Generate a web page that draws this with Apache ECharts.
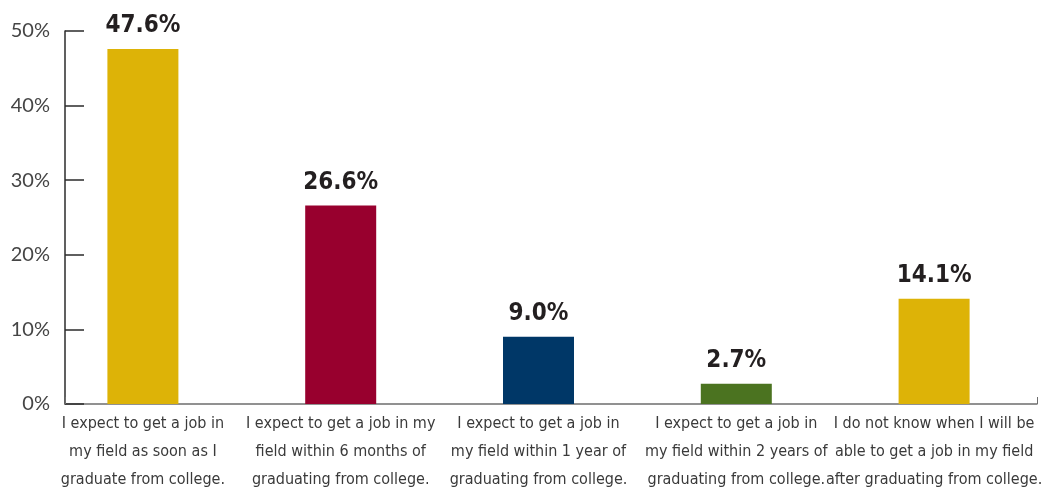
<!DOCTYPE html>
<html>
<head>
<meta charset="utf-8">
<script src="https://cdn.jsdelivr.net/npm/echarts@6/dist/echarts.min.js"></script>
<style>
  html, body { margin: 0; padding: 0; background: #fff; }
  #chart { width: 1047px; height: 491px; }
</style>
</head>
<body>
<div id="chart"></div>
<script>
// Survey responses: when students expect to find a job in their field
const categories = [
  'I expect to get a job in\nmy field as soon as I\ngraduate from college.',
  'I expect to get a job in my\nfield within 6 months of\ngraduating from college.',
  'I expect to get a job in\nmy field within 1 year of\ngraduating from college.',
  'I expect to get a job in\nmy field within 2 years of\ngraduating from college.',
  'I do not know when I will be\nable to get a job in my field\nafter graduating from college.'
];
const values = [47.6, 26.6, 9.0, 2.7, 14.1];
const barColors = ['#DDB307', '#98002E', '#003767', '#4B7320', '#DDB307'];
const yTicks = [0, 10, 20, 30, 40, 50];

const condensed = '"DejaVu Sans Condensed", "Liberation Sans Narrow", sans-serif';

const chart = echarts.init(document.getElementById('chart'), null, { renderer: 'canvas' });

chart.setOption({
  animation: false,
  backgroundColor: '#ffffff',
  grid: [
    // frame grid: y axis and baseline
    { left: 65, right: 10, top: 31, bottom: 87, outerBoundsMode: 'none', containLabel: false },
    // plotting grid for the bars and category labels
    { left: 44, right: 14, top: 31, bottom: 87, outerBoundsMode: 'none', containLabel: false }
  ],
  xAxis: [
    {
      type: 'category', gridIndex: 0, data: [''],
      axisLine: { lineStyle: { color: '#6d6d6d', width: 1.5 } },
      axisTick: { show: true, inside: true, length: 7, lineStyle: { color: '#6d6d6d' } },
      axisLabel: { show: false }
    },
    {
      type: 'category', gridIndex: 1, data: categories,
      axisLine: { show: false },
      axisTick: { show: false },
      axisLabel: {
        interval: 0, margin: 6, color: '#3a3a3a',
        fontFamily: condensed, fontSize: 16, lineHeight: 28, align: 'center'
      }
    }
  ],
  yAxis: [
    {
      type: 'value', gridIndex: 0, min: yTicks[0], max: yTicks[yTicks.length - 1], interval: 10,
      axisLine: { show: true, lineStyle: { color: '#2b2b2b', width: 1.5 } },
      axisTick: { show: true, inside: true, length: 19, lineStyle: { color: '#2b2b2b', width: 1.5 } },
      splitLine: { show: false },
      axisLabel: {
        formatter: '{value}%', margin: 15, color: '#454545',
        fontFamily: '"Lato", "Noto Sans", sans-serif', fontSize: 20
      }
    },
    {
      type: 'value', gridIndex: 1, min: yTicks[0], max: yTicks[yTicks.length - 1], interval: 10,
      show: false
    }
  ],
  series: [{
    type: 'bar',
    xAxisIndex: 1, yAxisIndex: 1,
    barWidth: 71,
    data: values.map((v, i) => ({ value: v, itemStyle: { color: barColors[i] } })),
    label: {
      show: true, position: 'top', distance: 11,
      formatter: p => p.value.toFixed(1) + '%',
      fontFamily: condensed, fontWeight: 'bold', fontSize: 24, color: '#231f20'
    }
  }]
});
</script>
</body>
</html>
